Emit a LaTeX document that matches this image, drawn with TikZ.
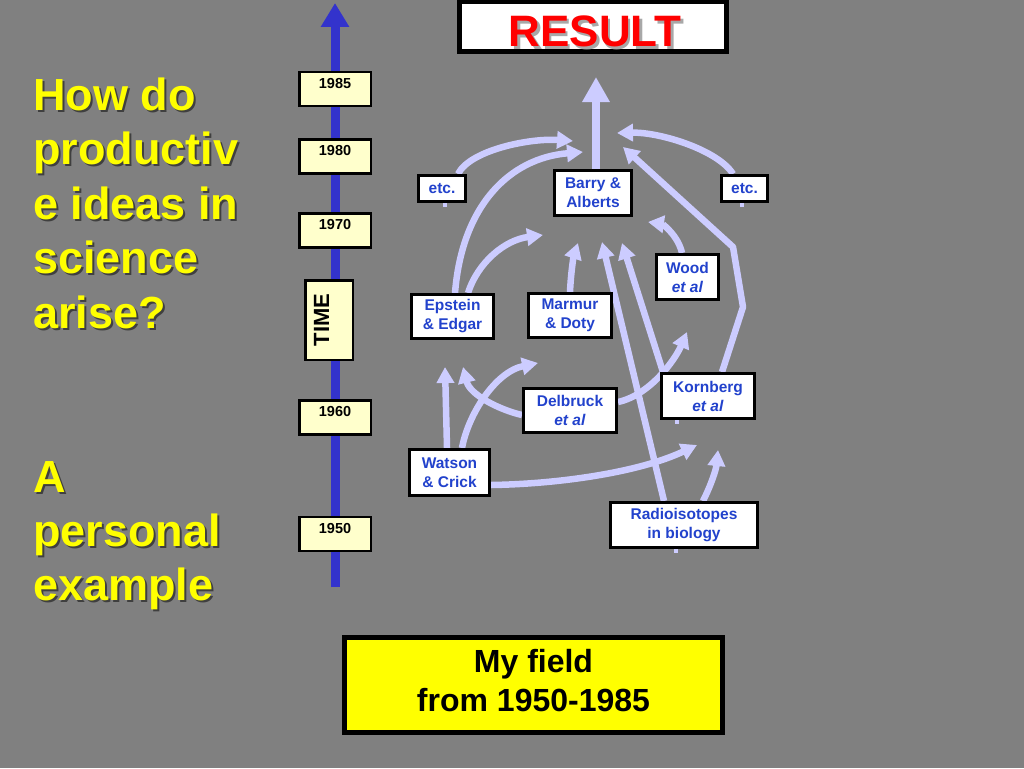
\documentclass[tikz,border=0pt]{standalone}
\usepackage{fontspec}
\setmainfont{Liberation Sans}
\usetikzlibrary{arrows.meta,calc}
\pgfdeclarelayer{bgl}
\pgfdeclarelayer{flows}
\pgfsetlayers{bgl,flows,main}
\definecolor{slidegray}{HTML}{808080}
\definecolor{lav}{HTML}{CCCCFF}
\definecolor{nodeblue}{HTML}{2242CC}
\definecolor{tlblue}{HTML}{3333CC}
\definecolor{yearfill}{HTML}{FFFFCC}
\definecolor{slideyellow}{HTML}{FFFF00}
\definecolor{resred}{HTML}{FF0000}
\definecolor{resshadow}{HTML}{A8A8A8}
\tikzset{
  infobox/.style={draw=black, line width=3pt, fill=white, inner sep=0pt, align=center,
    text=nodeblue, font=\fontsize{15.5}{19}\selectfont\bfseries},
  yearbox/.style={draw=black, line width=2.5pt, fill=yearfill, inner sep=0pt,
    minimum width=71.5pt, minimum height=34pt, text height=16pt, text depth=18pt,
    font=\fontsize{14.5}{17}\selectfont\bfseries},
  timebox/.style={draw=black, line width=2.5pt, fill=yearfill, inner sep=0pt, rotate=90,
    minimum width=79.5pt, minimum height=47.5pt, text depth=15pt,
    font=\fontsize{22}{24}\selectfont\bfseries},
  flow/.style={draw=lav, line width=6.5pt, line join=round, -{Triangle[width=17pt,length=16pt]}},
  bigflow/.style={draw=lav, line width=8pt, -{Triangle[width=26pt,length=25pt]}},
  stub/.style={draw=lav, line width=4pt},
  lefttext/.style={anchor=base west, inner sep=0pt, text=slideyellow,
    font=\fontsize{45}{54}\selectfont\bfseries},
  leftshadow/.style={anchor=base west, inner sep=0pt, text=black, opacity=0.5,
    font=\fontsize{45}{54}\selectfont\bfseries},
}
\begin{document}
\begin{tikzpicture}[x=1pt,y=-1pt]
\useasboundingbox (0,0) rectangle (1024,768);
\begin{pgfonlayer}{bgl}
\fill[slidegray] (0,0) rectangle (1024,768);
\coordinate (tlbot) at (335,587);
\coordinate (tltop) at (335,3);
\draw[tlblue, line width=9pt, -{Triangle[width=27pt,length=24pt]}] (tlbot) -- (tltop);
\end{pgfonlayer}

% left text
\foreach \t/\yy [count=\i] in {How do/110, productiv/164.5, e ideas in/219, science/273.5, arise?/328,
  A/492, personal/546, example/600}{
  \node[leftshadow] (ls\i) at (35,\yy+2) {\t};
  \node[lefttext] (lt\i) at (33,\yy) {\t};
}

% timeline boxes
\node[yearbox] (y85) at (335,89) {1985};
\node[yearbox] (y80) at (335,156.5) {1980};
\node[yearbox] (y70) at (335,230.5) {1970};
\node[timebox] (time) at (329,320) {TIME};
\node[yearbox] (y60) at (335,417.5) {1960};
\node[yearbox] (y50) at (335,534) {1950};

% RESULT
\node[draw=black, line width=5pt, fill=white, minimum width=267pt, minimum height=50pt, inner sep=0pt] (result) at (593,26.5) {};
\node[anchor=base, inner sep=0pt, text=resshadow, font=\fontsize{44}{50}\selectfont\bfseries] (resshad) at (597.5,49) {RESULT};
\node[anchor=base, inner sep=0pt, text=resred, font=\fontsize{44}{50}\selectfont\bfseries] (restext) at (595,46.5) {RESULT};

% field box
\node[draw=black, line width=5pt, fill=slideyellow, minimum width=378pt, minimum height=95pt,
  inner sep=0pt] (field) at (533.5,685) {};
\node[inner sep=0pt, align=center, font=\fontsize{32}{39}\selectfont\bfseries] (fieldtext) at (533.5,681) {My field\\from 1950-1985};

% content nodes
\node[infobox, minimum width=47pt, minimum height=26pt] (etcL) at (442,188.5) {etc.};
\node[infobox, minimum width=77pt, minimum height=45pt] (barry) at (593,193) {Barry \&\\Alberts};
\node[infobox, minimum width=46pt, minimum height=26pt] (etcR) at (744.5,188.5) {etc.};
\node[infobox, minimum width=62pt, minimum height=45pt] (wood) at (687.5,277) {Wood\\\textit{et al}};
\node[infobox, minimum width=82pt, minimum height=44pt] (epstein) at (452.5,316.5) {Epstein\\\& Edgar};
\node[infobox, minimum width=83pt, minimum height=44pt] (marmur) at (570,315.5) {Marmur\\\& Doty};
\node[infobox, minimum width=93pt, minimum height=44pt] (delbruck) at (570,410.5) {Delbruck\\\textit{et al}};
\node[infobox, minimum width=93pt, minimum height=45pt] (kornberg) at (708,396) {Kornberg\\\textit{et al}};
\node[infobox, minimum width=80pt, minimum height=46pt] (watson) at (449.5,472.5) {Watson\\\& Crick};
\node[infobox, minimum width=147pt, minimum height=45pt] (radio) at (684,525) {Radioisotopes\\in biology};

% arrow end points
\coordinate (tA0) at (596,77);
\coordinate (tA1) at (573,141);
\coordinate (tA2) at (583,152);
\coordinate (tA3) at (543,235);
\coordinate (tA4) at (617,133);
\coordinate (kA) at (743,307);
\coordinate (kB) at (733,247);
\coordinate (tA5) at (623,147);
\coordinate (tA6) at (648,222);
\coordinate (tA7) at (578,243);
\coordinate (tA8) at (602,242);
\coordinate (tA9) at (622,243);
\coordinate (tA10) at (687,332);
\coordinate (tA11) at (463,367);
\coordinate (tA12) at (445,367);
\coordinate (tA13) at (538,363);
\coordinate (tA14) at (697,445);
\coordinate (tA15) at (718,450);

\begin{pgfonlayer}{flows}
\draw[bigflow] ($(barry.north)+(3,0)$) -- (tA0);
\draw[flow] ($(etcL.north)+(16,0)$) .. controls (470,150) and (530,138) .. (tA1);
\draw[flow] ($(epstein.north)+(2.5,0)$) .. controls (462,205) and (510,158) .. (tA2);
\draw[flow] ($(epstein.north)+(15.5,0)$) .. controls (478,262) and (505,240) .. (tA3);
\draw[flow] ($(etcR.north)+(-11.5,0)$) .. controls (718,150) and (660,132) .. (tA4);
\draw[flow] ($(kornberg.north)+(14,0)$) -- (kA) -- (kB) -- (tA5);
\draw[flow] ($(wood.north)+(-5.5,0)$) .. controls (678,235) and (662,224) .. (tA6);
\draw[flow] (marmur.north) .. controls (571,270) and (574,255) .. (tA7);
\draw[flow] ($(radio.north)+(-20,0)$) -- (tA8);
\draw[flow] ($(kornberg.north)+(-45,0)$) -- (tA9);
\draw[flow] ($(delbruck.east)+(0,-8.5)$) .. controls (650,395) and (675,360) .. (tA10);
\draw[flow] ($(delbruck.west)+(0,4.5)$) .. controls (500,410) and (470,395) .. (tA11);
\draw[flow] ($(watson.north)+(-2.5,0)$) -- (tA12);
\draw[flow] ($(watson.north)+(12.5,0)$) .. controls (468,415) and (495,372) .. (tA13);
\draw[flow] ($(watson.east)+(0,12.5)$) .. controls (560,484) and (640,472) .. (tA14);
\draw[flow] ($(radio.north)+(19,0)$) .. controls (711,485) and (716,470) .. (tA15);
% small visible stubs below boxes
\draw[stub] ($(etcL.south)+(3,0)$) -- ++(0,4);
\draw[stub] ($(etcR.south)+(-3,0)$) -- ++(0,4);
\draw[stub] ($(kornberg.south)+(-31,0)$) -- ++(0,4);
\draw[stub] ($(radio.south)+(-8,0)$) -- ++(0,4);
\end{pgfonlayer}
\end{tikzpicture}
\end{document}
